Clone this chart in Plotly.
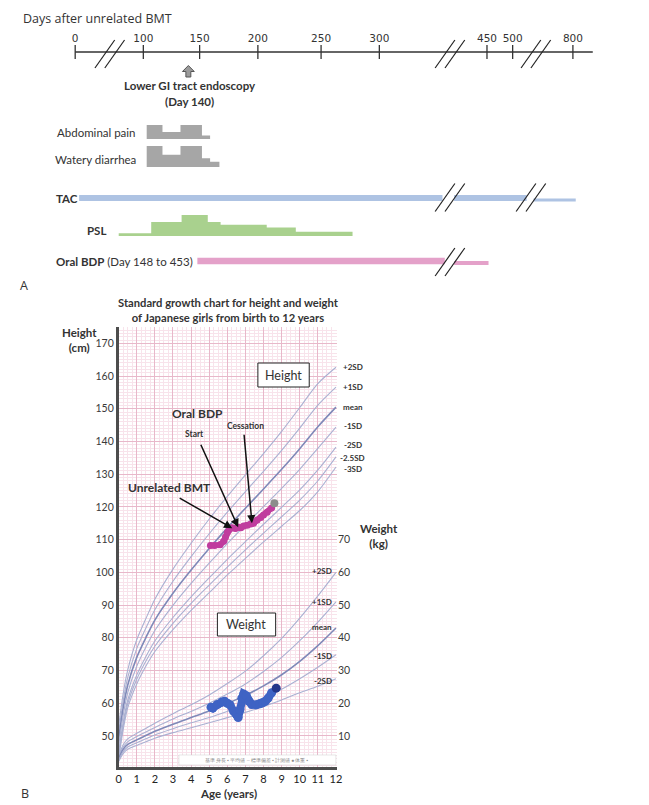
import numpy as np
import plotly.graph_objects as go

W, H = 649, 805
OFF = 8                      # page body margin around the figure
FW, FH = W - OFF, H - OFF

# ---------------- Panel A: clinical course (days after BMT) ----------------
TIMELINE_TICKS = [0, 100, 150, 200, 250, 300, 450, 500, 800]
ENDOSCOPY_DAY = 140

ABD_PAIN_DAYS = [103, 117, 133, 152, 159]
ABD_PAIN_GRADE = [4, 2, 4, 1]
DIARRHEA_DAYS = [103, 117, 133, 152, 159, 167]
DIARRHEA_GRADE = [6, 3.5, 6, 2.5, 1.5]

PSL_DAYS = [78, 107, 134, 157, 168, 207, 230, 277]
PSL_DOSE = [0.2, 1.0, 1.5, 1.0, 0.8, 0.6, 0.3]

TAC_START = [8, 423, 555]
TAC_END = [354, 537, 805]
TAC_LEVEL = ["full", "full", "tapered"]

BDP_START = [148, 423]
BDP_END = [356, 453]
BDP_LEVEL = ["full", "tapered"]

# broken time axis: day -> horizontal position (scale definition)
AXIS_DAYS = [0, 70, 100, 150, 200, 250, 300, 360, 420, 450, 500, 560, 760, 800, 840]
AXIS_POS = [73, 108, 142, 199, 258, 322, 381, 452, 453, 490, 516, 539, 540, 577, 600]
BREAK_DAYS = [70, 390, 660]

# ---------------- Panel B: growth chart ----------------
AGE = [0, 0.25, 0.5, 1, 1.5, 2, 3, 4, 5, 6, 7, 8, 9, 10, 11, 12]

HT_P2SD = [53.0, 62.9, 70.1, 79.4, 85.8, 91.8, 101.0, 108.9, 116.3, 123.2, 129.8, 136.3, 143.1, 150.4, 157.7, 162.7]
HT_P1SD = [51.0, 60.7, 67.8, 76.7, 82.9, 88.6, 97.3, 104.8, 111.8, 118.4, 124.7, 130.9, 137.3, 144.1, 151.1, 156.6]
HT_MEAN = [49.0, 58.5, 65.5, 74.0, 80.0, 85.4, 93.6, 100.7, 107.3, 113.6, 119.6, 125.5, 131.5, 137.8, 144.5, 150.5]
HT_M1SD = [47.0, 56.3, 63.2, 71.3, 77.1, 82.2, 89.9, 96.6, 102.8, 108.8, 114.5, 120.1, 125.7, 131.5, 137.9, 144.4]
HT_M2SD = [45.0, 54.1, 60.9, 68.6, 74.2, 79.0, 86.2, 92.5, 98.3, 104.0, 109.4, 114.7, 119.9, 125.2, 131.3, 138.3]
HT_M25SD = [44.0, 53.0, 59.8, 67.3, 72.8, 77.4, 84.4, 90.5, 96.1, 101.6, 106.9, 112.0, 117.0, 122.1, 128.0, 135.3]
HT_M3SD = [43.0, 51.9, 58.6, 65.9, 71.3, 75.8, 82.5, 88.4, 93.8, 99.2, 104.3, 109.3, 114.1, 118.9, 124.7, 132.2]

WT_P2SD = [3.8, 7.3, 9.1, 10.8, 12.3, 13.9, 16.8, 19.5, 22.5, 26.0, 29.8, 34.5, 39.8, 46.0, 52.8, 60.0]
WT_P1SD = [3.4, 6.6, 8.2, 9.8, 11.2, 12.6, 15.2, 17.5, 20.0, 22.8, 25.9, 29.7, 34.0, 39.1, 44.8, 51.0]
WT_MEAN = [3.0, 5.9, 7.4, 8.8, 10.1, 11.4, 13.6, 15.6, 17.6, 19.9, 22.4, 25.3, 28.7, 32.8, 37.6, 43.0]
WT_M1SD = [2.6, 5.2, 6.6, 7.9, 9.1, 10.3, 12.2, 14.0, 15.6, 17.5, 19.5, 21.7, 24.3, 27.5, 31.0, 34.8]
WT_M2SD = [2.2, 4.6, 5.9, 7.1, 8.2, 9.3, 11.0, 12.5, 14.0, 15.6, 17.2, 19.0, 21.0, 23.2, 25.2, 27.5]

PT_HT_AGE = [5.07, 5.3, 5.6, 5.8, 5.9, 6.0, 6.1, 6.27, 6.45, 6.6, 6.75, 6.9, 7.1, 7.3, 7.45, 7.65, 7.85, 8.0, 8.2, 8.45]
PT_HT = [108.2, 108.2, 108.4, 109.5, 110.8, 112.2, 113.0, 113.6, 113.4, 113.8, 113.6, 114.2, 114.4, 114.8, 115.0, 116.0, 116.8, 117.5, 118.4, 119.7]
PT_HT_LAST = (8.6, 121.1)

PT_WT_AGE = [5.1, 5.2, 5.45, 5.7, 5.85, 6.0, 6.15, 6.35, 6.5, 6.6, 6.7, 6.8, 6.9, 7.05, 7.2, 7.35, 7.6, 7.8, 7.95, 8.1, 8.25, 8.45]
PT_WT = [18.8, 18.5, 19.6, 20.4, 20.6, 20.0, 19.5, 17.5, 16.6, 15.6, 18.0, 21.5, 22.8, 22.3, 20.5, 19.6, 19.5, 19.8, 20.1, 20.6, 21.5, 23.2]
PT_WT_LAST = (8.7, 24.6)

ARROW_AGE = [6.27, 6.6, 7.36]          # BMT, BDP start, BDP cessation
ARROW_HT = [113.5, 113.8, 115.0]
ARROW_TAIL = [(-54, -31), (-38, -84), (-8, -90)]

HT_SD_LABELS = ["+2SD", "+1SD", "mean", "-1SD", "-2SD", "-2.5SD", "-3SD"]
WT_SD_LABELS = ["+2SD", "+1SD", "mean", "-1SD", "-2SD"]

# ---------------- styles ----------------
CAL = "Lato"
DARK = "#333333"
GREY_SYM = "#a6a6a6"
TAC_BLUE = "#aec3e3"
PSL_GREEN = "#a9d18e"
BDP_PINK = "#e4a1c9"
CURVE = "#aab1d2"
CURVE_MEAN = "#7f89b8"
GRID_MAJ = "#e8b8ca"
GRID_MIN = "#f8e3eb"


def tl(days):
    return np.interp(np.asarray(days, dtype=float), AXIS_DAYS, AXIS_POS)


def px(x):
    return (x - OFF) / FW


def py(y):
    return 1 - (y - OFF) / FH


def step_xy(days, levels):
    xs = [days[0]] + list(days[:-1]) + [days[-1]]
    ys = [0] + list(levels) + [0]
    return tl(xs), ys


fig = go.Figure()

# timeline axis
fig.add_trace(go.Scatter(x=tl([0, 835]), y=[52, 52], xaxis="x", yaxis="y", mode="lines",
                         line=dict(color=DARK, width=1.3), hoverinfo="skip"))
fig.add_trace(go.Scatter(x=tl(TIMELINE_TICKS), y=[52] * len(TIMELINE_TICKS), xaxis="x", yaxis="y",
                         mode="markers+text",
                         marker=dict(symbol="line-ns", size=10, line=dict(color=DARK, width=1.3)),
                         text=[str(d) for d in TIMELINE_TICKS], textposition="top center",
                         textfont=dict(family="DejaVu Sans", size=10.5, color=DARK),
                         hoverinfo="skip"))

# symptoms
sx, sy = step_xy(ABD_PAIN_DAYS, ABD_PAIN_GRADE)
fig.add_trace(go.Scatter(x=sx, y=sy, xaxis="x", yaxis="y3", mode="lines", line_shape="hv",
                         fill="toself", fillcolor=GREY_SYM, line=dict(width=0, color=GREY_SYM)))
sx, sy = step_xy(DIARRHEA_DAYS, DIARRHEA_GRADE)
fig.add_trace(go.Scatter(x=sx, y=sy, xaxis="x", yaxis="y4", mode="lines", line_shape="hv",
                         fill="toself", fillcolor=GREY_SYM, line=dict(width=0, color=GREY_SYM)))
sx, sy = step_xy(PSL_DAYS, PSL_DOSE)
fig.add_trace(go.Scatter(x=sx, y=sy, xaxis="x", yaxis="y5", mode="lines", line_shape="hv",
                         fill="toself", fillcolor=PSL_GREEN, line=dict(width=0, color=PSL_GREEN)))

# drug bars
for s, e, lv in zip(TAC_START, TAC_END, TAC_LEVEL):
    yy = 198 if lv == "full" else 200
    fig.add_trace(go.Scatter(x=tl([s, e]), y=[yy, yy], xaxis="x", yaxis="y", mode="lines",
                             line=dict(color=TAC_BLUE, width=6 if lv == "full" else 3)))
for s, e, lv in zip(BDP_START, BDP_END, BDP_LEVEL):
    yy = 261 if lv == "full" else 263
    fig.add_trace(go.Scatter(x=tl([s, e]), y=[yy, yy], xaxis="x", yaxis="y", mode="lines",
                             line=dict(color=BDP_PINK, width=6.5 if lv == "full" else 4)))

shapes = []


def slashes(cx, cy):
    for dx in (-5, 5):
        shapes.append(dict(type="line", xref="x", yref="y", x0=cx + dx - 10, y0=cy + 14,
                           x1=cx + dx + 10, y1=cy - 14, line=dict(color="#222", width=1.2)))


bx = tl(BREAK_DAYS)
for cx in bx:
    slashes(cx, 54)
slashes(bx[1], 197.5)
slashes(bx[2] - 5, 197.5)
slashes(bx[1], 262)

# endoscopy block arrow
ex = float(tl([ENDOSCOPY_DAY])[0])
shapes.append(dict(type="path", xref="x", yref="y",
                   path=(f"M {ex},65.5 L {ex + 6},71.5 L {ex + 2.5},71.5 L {ex + 2.5},77 "
                         f"L {ex - 2.5},77 L {ex - 2.5},71.5 L {ex - 6},71.5 Z"),
                   fillcolor="#9b9b9b", line=dict(color="#555", width=1)))

# ---------------- Panel B traces ----------------
ht_curves = [HT_P2SD, HT_P1SD, HT_MEAN, HT_M1SD, HT_M2SD, HT_M25SD, HT_M3SD]
for i, c in enumerate(ht_curves):
    mean = i == 2
    fig.add_trace(go.Scatter(x=AGE, y=c, xaxis="x2", yaxis="y2", mode="lines",
                             line=dict(color=CURVE_MEAN if mean else CURVE, width=1.6 if mean else 1.1,
                                       shape="spline", smoothing=0.8), hoverinfo="skip"))
wt_curves = [WT_P2SD, WT_P1SD, WT_MEAN, WT_M1SD, WT_M2SD]
for i, c in enumerate(wt_curves):
    mean = i == 2
    fig.add_trace(go.Scatter(x=AGE, y=c, xaxis="x2", yaxis="y6", mode="lines",
                             line=dict(color=CURVE_MEAN if mean else CURVE, width=1.6 if mean else 1.1,
                                       shape="spline", smoothing=0.8), hoverinfo="skip"))

fig.add_trace(go.Scatter(x=PT_HT_AGE, y=PT_HT, xaxis="x2", yaxis="y2", mode="lines+markers",
                         line=dict(color="#c03c9e", width=6), marker=dict(color="#c03c9e", size=7)))
fig.add_trace(go.Scatter(x=[PT_HT_LAST[0]], y=[PT_HT_LAST[1]], xaxis="x2", yaxis="y2", mode="markers",
                         marker=dict(color="#8c8c8c", size=8)))
fig.add_trace(go.Scatter(x=PT_WT_AGE, y=PT_WT, xaxis="x2", yaxis="y6", mode="lines+markers",
                         line=dict(color="#3f63c4", width=8), marker=dict(color="#3f63c4", size=9)))
fig.add_trace(go.Scatter(x=[PT_WT_LAST[0]], y=[PT_WT_LAST[1]], xaxis="x2", yaxis="y6", mode="markers",
                         marker=dict(color="#24368a", size=9)))

# boxes and legend strip
shapes.append(dict(type="rect", xref="paper", yref="paper", x0=px(258), x1=px(310), y0=py(387), y1=py(363),
                   fillcolor="white", line=dict(color="#222", width=1)))
shapes.append(dict(type="rect", xref="paper", yref="paper", x0=px(217), x1=px(276), y0=py(636), y1=py(613),
                   fillcolor="white", line=dict(color="#222", width=1)))
shapes.append(dict(type="rect", xref="paper", yref="paper", x0=px(178), x1=px(337), y0=py(765), y1=py(755),
                   fillcolor="white", line=dict(color="#cccccc", width=0.5)))

ann = []


def label(x, y, text, size=12, bold=False, anchor="center", color=DARK, family=CAL, vanchor="middle"):
    ann.append(dict(x=px(x), y=py(y), xref="paper", yref="paper", showarrow=False,
                    text=f"<b>{text}</b>" if bold else text, xanchor=anchor, yanchor=vanchor,
                    font=dict(family=family, size=size, color=color)))


label(18, 8, "Days after unrelated BMT", 12.5, anchor="left", family="Open Sans", vanchor="top")
label(189, 85, "Lower GI tract endoscopy", 11.5, True)
label(189, 101, "(Day 140)", 11.5, True)
label(137, 132, "Abdominal pain", 11.5, anchor="right")
label(137, 159, "Watery diarrhea", 11.5, anchor="right")
label(52, 198, "TAC", 11.5, True, anchor="left")
label(83, 230, "PSL", 11.5, True, anchor="left")
label(52, 261, "<b>Oral BDP</b> (Day 148 to 453)", 11.5, anchor="left")
label(21, 285, "A", 12.5, family="Open Sans")

label(228, 310, "Standard growth chart for height and weight<br>of Japanese girls from birth to 12 years",
      11.2, True)
label(77, 340, "Height<br>(cm)", 11.5, True)
label(381, 536, "Weight<br>(kg)", 11.5, True)
label(284, 375, "Height", 12.5)
label(246, 624.5, "Weight", 12.5)
label(197, 413, "Oral BDP", 12, True)
label(194, 434, "Start", 8.5, True)
label(245, 426, "Cessation", 8.5, True)
label(169, 487, "Unrelated BMT", 12, True)
label(228, 793, "Age (years)", 11.5, True)
label(22, 793, "B", 12.5, family="Open Sans")
label(257, 760, "基準 身長 ▪ 平均値 ― 標準偏差 ▪ 計測値 ● 体重 ▪", 4.5, color="#888888")

for lab, yy in zip(HT_SD_LABELS, [367, 387, 407, 426, 445, 458, 469]):
    label(354, yy, lab, 8, True)
for lab, yy in zip(WT_SD_LABELS, [571, 602, 627, 656, 681]):
    label(335, yy, lab, 8, True, anchor="right")

for (ax_, ay_), a, h in zip(ARROW_TAIL, ARROW_AGE, ARROW_HT):
    ann.append(dict(x=a, y=h, xref="x2", yref="y2", text="", showarrow=True, ax=ax_, ay=ay_,
                    arrowhead=2, arrowsize=1.1, arrowwidth=1.5, arrowcolor="#111", standoff=0))

tickfont_b = dict(family=CAL, size=10.5, color="#3a3a3a")

fig.update_layout(
    width=FW, height=FH, margin=dict(l=0, r=0, t=0, b=0),
    paper_bgcolor="white", plot_bgcolor="rgba(0,0,0,0)", showlegend=False,
    xaxis=dict(domain=[0, 1], range=[OFF, W], visible=False, anchor="y"),
    yaxis=dict(domain=[0, 1], range=[H, OFF], visible=False, anchor="x"),
    yaxis3=dict(domain=[py(139), py(121.5)], range=[0, 5], visible=False, anchor="x"),
    yaxis4=dict(domain=[py(167), py(142.5)], range=[0, 7], visible=False, anchor="x"),
    yaxis5=dict(domain=[py(236), py(208)], range=[0, 2], visible=False, anchor="x"),
    xaxis2=dict(domain=[px(117), px(338)], range=[0, 12.05], anchor="y2",
                tickvals=list(range(13)), showgrid=True, gridcolor=GRID_MAJ, gridwidth=1,
                minor=dict(dtick=0.25, tick0=0, showgrid=True, gridcolor=GRID_MIN, gridwidth=0.6),
                showline=True, linecolor="#4d4d4d", linewidth=2.5, zeroline=False,
                ticks="", tickfont=dict(family=CAL, size=11, color="#222")),
    yaxis2=dict(domain=[py(767), py(327)], range=[40.5, 175], anchor="x2",
                tickvals=list(range(50, 171, 10)), showgrid=True, gridcolor=GRID_MAJ, gridwidth=1,
                minor=dict(dtick=1, tick0=0, showgrid=True, gridcolor=GRID_MIN, gridwidth=0.6),
                showline=True, linecolor="#4d4d4d", linewidth=2.5, zeroline=False,
                ticks="", tickfont=tickfont_b),
    yaxis6=dict(overlaying="y2", anchor="x2", side="right", range=[0.5, 135],
                tickvals=list(range(10, 71, 10)), showgrid=False, zeroline=False, showline=False,
                ticks="", tickfont=tickfont_b),
    shapes=shapes, annotations=ann,
)

fig.write_html("out.html")
